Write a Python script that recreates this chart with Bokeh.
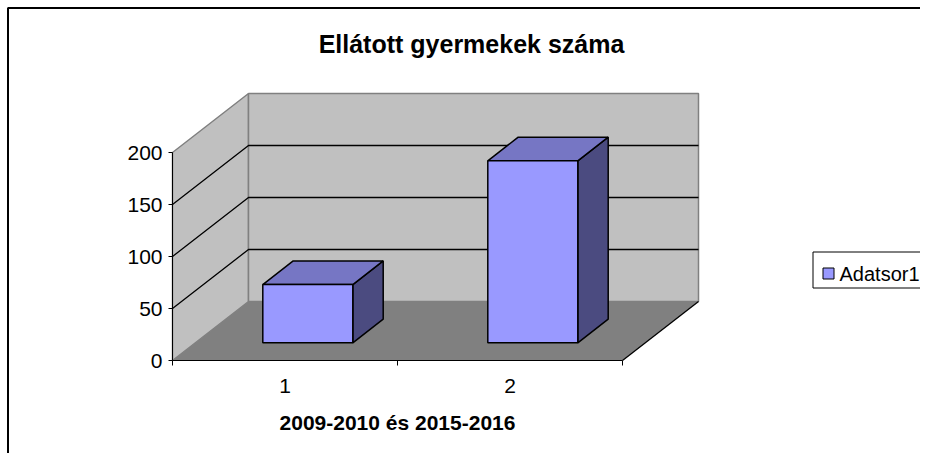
from bokeh.plotting import figure
from bokeh.models import Range1d, LinearAxis, FixedTicker, ColumnDataSource
from bokeh.core.properties import value
from bokeh.embed import file_html
from bokeh.resources import INLINE

# ---- data ----
categories = ["1", "2"]
values = [56, 175]
series_name = "Adatsor1"
y_ticks = [0, 50, 100, 150, 200]
title_text = "Ellátott gyermekek száma"
x_title = "2009-2010 és 2015-2016"

# ---- layout constants ----
W, H = 920, 453
ORIGIN_X, ORIGIN_Y = 172, 360   # canvas px of (category 0, value 0) on the front plane
PX_PER_CAT = 225
PX_PER_UNIT = 1.04
DEPTH_PX = (76, 59)
FONT = "Liberation Sans"
Y_MAX = y_ticks[-1]
ncat = len(categories)

x_start = -ORIGIN_X / PX_PER_CAT
x_end = (W - ORIGIN_X) / PX_PER_CAT
y_start = -(H - ORIGIN_Y) / PX_PER_UNIT
y_end = ORIGIN_Y / PX_PER_UNIT
DX = DEPTH_PX[0] / PX_PER_CAT
DY = DEPTH_PX[1] / PX_PER_UNIT


def P(x, y, d):
    return (x + DX * d, y + DY * d)


def poly(pts):
    return [pt[0] for pt in pts], [pt[1] for pt in pts]


p = figure(width=W, height=H, x_range=Range1d(x_start, x_end), y_range=Range1d(y_start, y_end),
           x_axis_type=None, y_axis_type=None, toolbar_location=None, output_backend="svg",
           min_border=0, outline_line_color=None, background_fill_color="white")
p.extra_x_ranges = {"px": Range1d(0, W)}
p.extra_y_ranges = {"px": Range1d(H, 0)}

# walls and floor
sx, sy = poly([P(0, 0, 0), P(0, 0, 1), P(0, Y_MAX, 1), P(0, Y_MAX, 0)])
p.patch(sx, sy, fill_color="#C0C0C0", line_color="#808080", line_width=1.5)
bx, by = poly([P(0, 0, 1), P(ncat, 0, 1), P(ncat, Y_MAX, 1), P(0, Y_MAX, 1)])
p.patch(bx, by, fill_color="#C0C0C0", line_color="#808080", line_width=1.5)
fx, fy = poly([P(0, 0, 0), P(ncat, 0, 0), P(ncat, 0, 1), P(0, 0, 1)])
p.patch(fx, fy, fill_color="#808080", line_color=None)

# gridlines on side and back walls
gxs, gys = [], []
for v in y_ticks[1:-1]:
    a, b, c = P(0, v, 0), P(0, v, 1), P(ncat, v, 1)
    gxs.append([a[0], b[0], c[0]])
    gys.append([a[1], b[1], c[1]])
p.multi_line(gxs, gys, line_color="black", line_width=1.3)

# floor right edge
e0, e1 = P(ncat, 0, 0), P(ncat, 0, 1)
p.line([e0[0], e1[0]], [e0[1], e1[1]], line_color="black", line_width=1.3)

# bars
D0, D1 = 0.3, 0.7
HALF = 0.2
front = {"xs": [], "ys": []}
top = {"xs": [], "ys": []}
side = {"xs": [], "ys": []}
for i, v in enumerate(values):
    xa, xb = i + 0.5 - HALF, i + 0.5 + HALF
    for store, pts in ((front, [P(xa, 0, D0), P(xb, 0, D0), P(xb, v, D0), P(xa, v, D0)]),
                       (top, [P(xa, v, D0), P(xb, v, D0), P(xb, v, D1), P(xa, v, D1)]),
                       (side, [P(xb, 0, D0), P(xb, 0, D1), P(xb, v, D1), P(xb, v, D0)])):
        px_, py_ = poly(pts)
        store["xs"].append(px_)
        store["ys"].append(py_)

p.patches("xs", "ys", source=ColumnDataSource(side), fill_color="#4B4B80", line_color="black", line_width=1.5)
p.patches("xs", "ys", source=ColumnDataSource(top), fill_color="#7676C4", line_color="black", line_width=1.5)
p.patches("xs", "ys", source=ColumnDataSource(front), fill_color="#9999FF", line_color="black", line_width=1.5)

# axes
yaxis = LinearAxis(fixed_location=0, bounds=(0, Y_MAX), ticker=FixedTicker(ticks=y_ticks))
yaxis.axis_line_color = "black"
yaxis.major_tick_out = 4
yaxis.major_tick_in = 0
yaxis.major_tick_line_color = "black"
yaxis.minor_tick_line_color = None
yaxis.major_label_standoff = 6
yaxis.major_label_text_font = FONT
yaxis.major_label_text_font_size = "21px"
yaxis.major_label_text_color = "black"
p.add_layout(yaxis, "left")

xaxis = LinearAxis(fixed_location=0, bounds=(0, ncat),
                   ticker=FixedTicker(ticks=[i + 0.5 for i in range(ncat)],
                                      minor_ticks=list(range(ncat + 1))))
xaxis.major_label_overrides = {i + 0.5: c for i, c in enumerate(categories)}
xaxis.axis_line_color = "black"
xaxis.major_tick_out = 0
xaxis.major_tick_in = 0
xaxis.major_tick_line_color = None
xaxis.minor_tick_out = 5
xaxis.minor_tick_in = 0
xaxis.minor_tick_line_color = "black"
xaxis.major_label_standoff = 13
xaxis.major_label_text_font = FONT
xaxis.major_label_text_font_size = "21px"
xaxis.major_label_text_color = "black"
xaxis.axis_label = x_title
xaxis.axis_label_text_font = FONT
xaxis.axis_label_text_font_size = "21px"
xaxis.axis_label_text_font_style = "bold"
xaxis.axis_label_text_color = "black"
xaxis.axis_label_standoff = 15
p.add_layout(xaxis, "below")

# title
p.text(x=[471], y=[43], text=[title_text], x_range_name="px", y_range_name="px",
       text_align="center", text_baseline="middle", text_font=value(FONT),
       text_font_style="bold", text_font_size="25px", text_color="black")

# legend
p.quad(left=[812.5], right=[W + 10], top=[251.5], bottom=[287.5], x_range_name="px", y_range_name="px",
       fill_color="white", line_color="black", line_width=1)
p.quad(left=[822.5], right=[833.5], top=[267.5], bottom=[278.5], x_range_name="px", y_range_name="px",
       fill_color="#9999FF", line_color="black", line_width=1)
p.text(x=[839], y=[273], text=[series_name], x_range_name="px", y_range_name="px",
       text_align="left", text_baseline="middle", text_font=value(FONT),
       text_font_size="20px", text_color="black")

# chart border
p.line(x=[7.5, 7.5, W + 10], y=[H + 10, 7.5, 7.5], x_range_name="px", y_range_name="px",
       line_color="black", line_width=2)

open("out.html", "w").write(file_html(p, INLINE))
